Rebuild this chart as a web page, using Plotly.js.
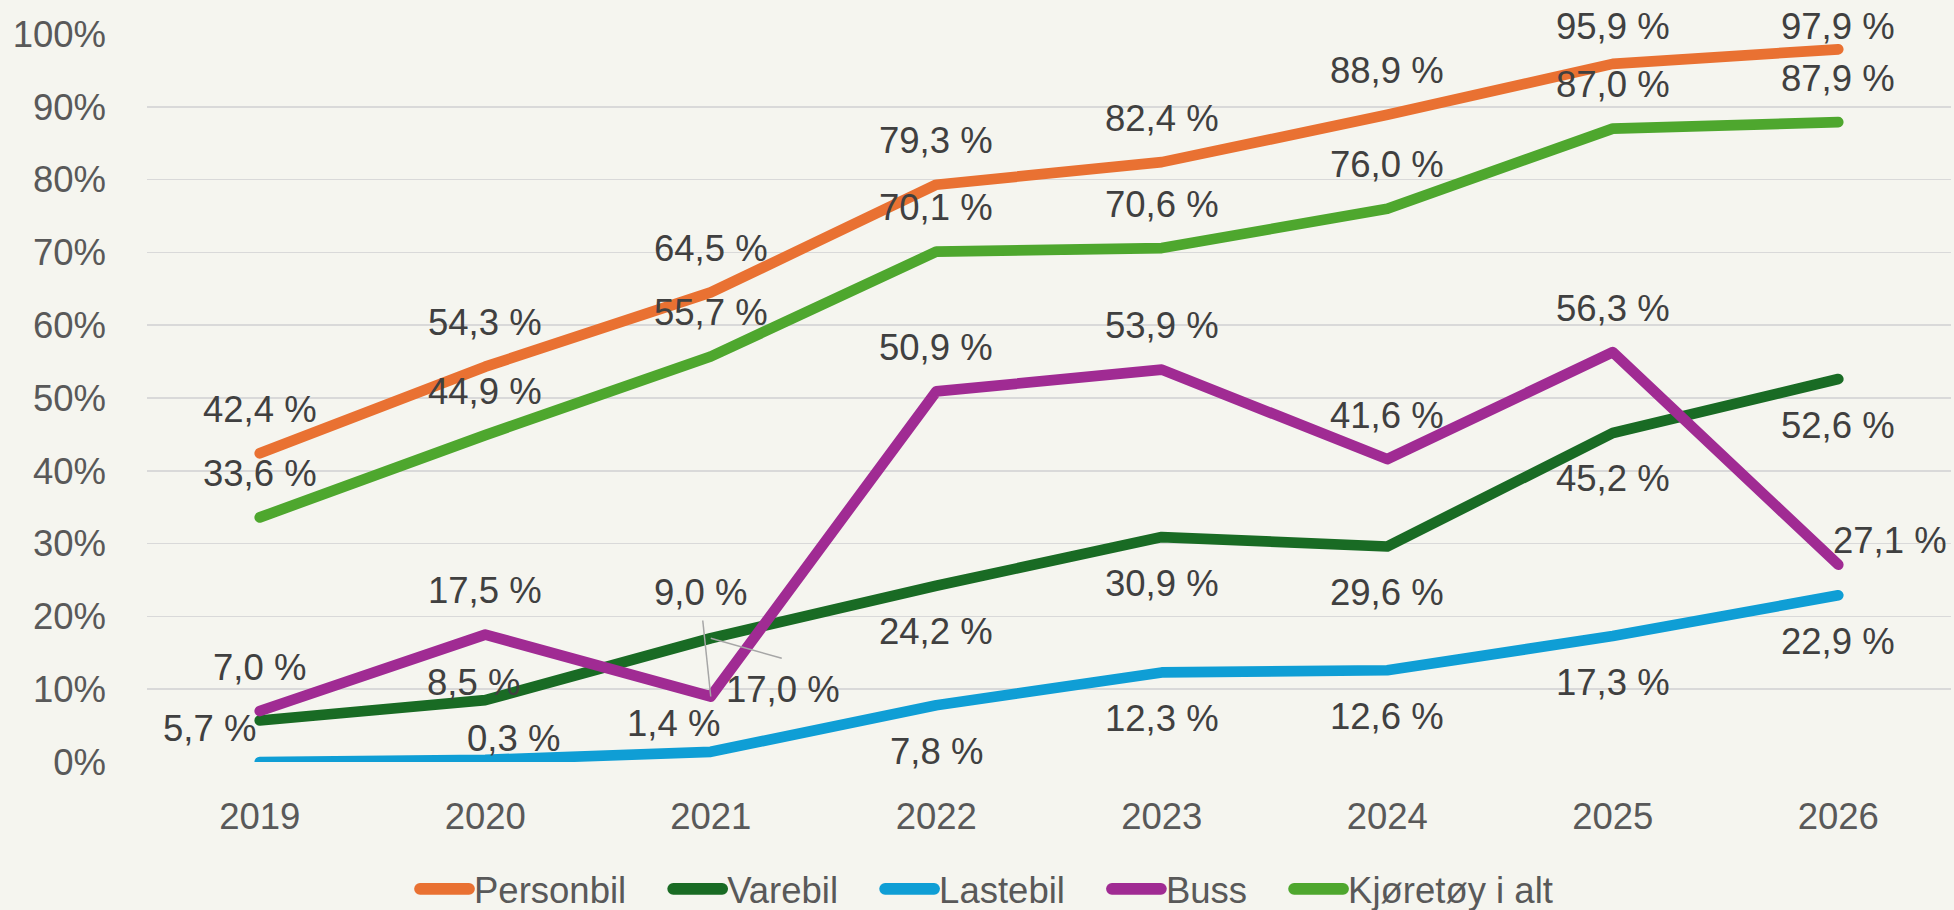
<!DOCTYPE html>
<html><head><meta charset="utf-8">
<script src="https://cdn.plot.ly/plotly-3.0.1.min.js"></script>
<style>
html,body{margin:0;padding:0;background:#F5F5EF;}
#chart{width:1954px;height:910px;}
.scatterlayer .js-line{stroke-linecap:round !important;stroke-linejoin:round !important;}
.legend .js-line{stroke-linecap:round !important;stroke-width:11.7px !important;d:path('M42,0h49') !important;}
</style></head><body><div id="chart"></div>
<script>
// ---- data ----
const years = ['2019','2020','2021','2022','2023','2024','2025','2026'];
const personbil = [42.4, 54.3, 64.5, 79.3, 82.4, 88.9, 95.9, 97.9];
const varebil   = [5.7, 8.5, 17.0, 24.2, 30.9, 29.6, 45.2, 52.6];
const lastebil  = [0.0, 0.3, 1.4, 7.8, 12.3, 12.6, 17.3, 22.9];
const buss      = [7.0, 17.5, 9.0, 50.9, 53.9, 41.6, 56.3, 27.1];
const kjoretoy  = [33.6, 44.9, 55.7, 70.1, 70.6, 76.0, 87.0, 87.9];
const seriesNames = ['Personbil','Varebil','Lastebil','Buss','Kjøretøy i alt'];
const yTickVals = [0,10,20,30,40,50,60,70,80,90,100];

// ---- style ----
const colors = ['#E97132','#196B24','#0F9ED5','#A02B93','#4EA72E'];
const FONT = 'Liberation Sans, Arial, sans-serif';
const FS = 36.5;
const M = {l:147, r:3, t:34, b:148, autoexpand:false};
const H = 910;
// label placement (pixel offsets, dy positive = up)
const placement = [
  {def:[0,44], over:{}},
  {def:[0,-46], over:{0:[-50,-8], 1:[-12,18], 2:[72,-51]}},
  {def:[0,-46], over:{1:[28,21.5], 2:[-37.5,28]}, hide:[0]},
  {def:[0,44], over:{2:[-10,104], 7:[52,24.5]}},
  {def:[0,44], over:{}}
];

const allSeries = [personbil, varebil, lastebil, buss, kjoretoy];
const plotH = H - M.t - M.b;
const fmt = v => v.toFixed(1).replace('.', ',') + ' %';

const traces = allSeries.map((vals, i) => ({
  type:'scatter', mode:'lines', name:seriesNames[i], x:years, y:vals,
  line:{color:colors[i], width:10.7}, cliponaxis:false, hoverinfo:'skip'
}));

const annotations = [];
allSeries.forEach((vals, i) => {
  const p = placement[i];
  vals.forEach((v, j) => {
    if (p.hide && p.hide.includes(j)) return;
    let [dx, dy] = p.over[j] || p.def;
    const pix = M.t + (1 - v/100) * plotH;
    if (pix - dy < 26) dy = pix - 26;
    annotations.push({
      x: j, y: v, xref:'x', yref:'y', text: fmt(v), showarrow:false,
      xanchor:'center', yanchor:'middle', xshift:dx, yshift:dy,
      font:{family:FONT, size:FS, color:'#404040'}
    });
  });
});

const shapes = [
  {type:'line', xref:'x', yref:'y', xsizemode:'pixel', ysizemode:'pixel',
   xanchor:2, yanchor:buss[2], x0:0, y0:0, x1:-8, y1:76,
   line:{color:'#A6A6A6', width:1.5}},
  {type:'line', xref:'x', yref:'y', xsizemode:'pixel', ysizemode:'pixel',
   xanchor:2, yanchor:varebil[2], x0:0, y0:0, x1:71, y1:-20,
   line:{color:'#A6A6A6', width:1.5}}
];

const layout = {
  width:1954, height:H, margin:M,
  paper_bgcolor:'#F5F5EF', plot_bgcolor:'#F5F5EF',
  font:{family:FONT, size:FS, color:'#595959'},
  showlegend:true,
  legend:{orientation:'h', xref:'container', yref:'container', x:0.4954, xanchor:'center',
    y:0.023, yanchor:'middle', itemwidth:86,
    font:{family:FONT, size:FS, color:'#595959'}, bgcolor:'rgba(0,0,0,0)'},
  xaxis:{type:'category', range:[-0.5,7.5], showgrid:false, zeroline:false, showline:false,
    ticks:'', ticklabelstandoff:29, tickfont:{family:FONT,size:FS,color:'#595959'}, fixedrange:true},
  yaxis:{range:[0,100], tickvals:yTickVals, ticktext:yTickVals.map(v=>v+'%'),
    showgrid:true, gridcolor:'#D9D9D9', gridwidth:1.5, zeroline:false, showline:false,
    ticks:'', ticklabelstandoff:40, tickfont:{family:FONT,size:FS,color:'#595959'}, fixedrange:true},
  annotations, shapes
};
Plotly.newPlot('chart', traces, layout, {staticPlot:true});
</script></body></html>
